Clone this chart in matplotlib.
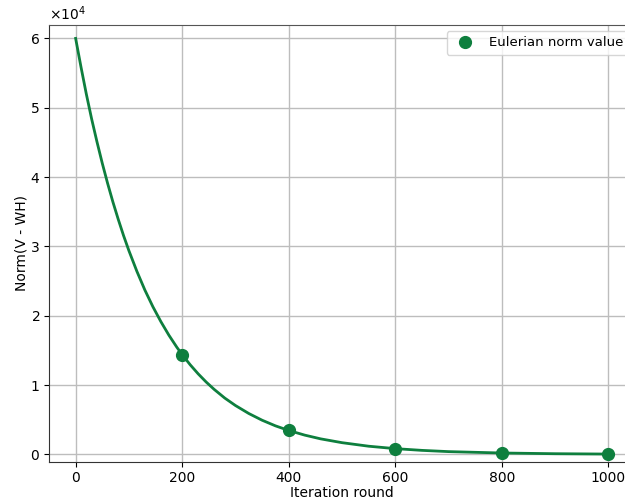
import matplotlib
matplotlib.use("Agg")
import matplotlib.pyplot as plt

# curve
curve_x = [0, 10, 20, 30, 40, 50, 60, 70, 80, 90, 100, 115, 130, 145, 160, 175, 190,
           200, 215, 230, 245, 260, 280, 300, 325, 350, 375, 400, 430, 460, 500,
           550, 600, 650, 700, 800, 900, 1000]
curve_y = [60000, 55900, 52000, 48400, 45100, 41990, 39100, 36400, 33900, 31550,
           29380, 26400, 23700, 21300, 19150, 17200, 15450, 14390, 12930, 11620,
           10440, 9380, 8120, 7050, 5900, 4930, 4120, 3450, 2780, 2240, 1690,
           1180, 830, 580, 400, 200, 97, 47]

# marked points
mark_x = [200, 400, 600, 800, 1000]
mark_y = [14390, 3450, 830, 200, 47]

green = '#0e7f3e'

fig = plt.figure(figsize=(6.25, 5.04), dpi=100)
ax = fig.add_axes([0.0784, 0.0833, 0.9376, 0.8680])

ax.plot(curve_x, curve_y, color=green, lw=2, zorder=3)
ax.plot(mark_x, mark_y, 'o', color=green, ms=8.5, label='Eulerian norm value', zorder=4)

ax.set_xlim(-50, 1050)
ax.set_ylim(-1100, 62000)
ax.set_xticks([0, 200, 400, 600, 800, 1000])
ax.set_yticks([0, 10000, 20000, 30000, 40000, 50000, 60000])
ax.ticklabel_format(axis='y', style='sci', scilimits=(0, 0), useMathText=True)
ax.tick_params(labelsize=10, pad=3)
ax.grid(True, color='#bdbdbd', lw=1)
ax.set_axisbelow(True)

for s in ['left', 'bottom']:
    ax.spines[s].set_color('#333333')
for s in ['top', 'right']:
    ax.spines[s].set_color('#555555')

ax.set_xlabel('Iteration round', labelpad=1)
ax.set_ylabel('Norm(V - WH)', labelpad=1)
ax.legend(loc='upper right', fontsize=9.5, bbox_to_anchor=(1.0, 1.0))

fig.savefig('out.png', dpi=100)
